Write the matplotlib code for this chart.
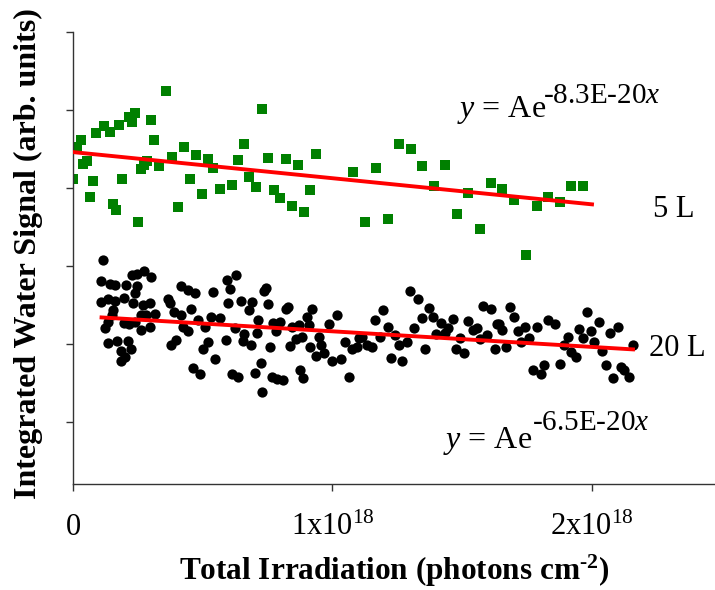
import matplotlib
matplotlib.use('Agg')
import matplotlib.pyplot as plt

plt.rcParams['font.family'] = 'Liberation Serif'
plt.rcParams['mathtext.fontset'] = 'custom'
plt.rcParams['mathtext.rm'] = 'Liberation Serif'
plt.rcParams['mathtext.it'] = 'Liberation Serif:italic'
plt.rcParams['mathtext.bf'] = 'Liberation Serif:bold'

# irradiation in units of 1e18 photons cm^-2, signal in arb. units
x_5L = [0.357, 0.727, 0.239, 0.216, 0.226, 0.299, 0.118, 0.178, 0.143, 0.090,
        0.030, 0.311, 0.017, 0.658, 0.427, 0.473, 0.380, 0.519, 0.635, 0.750,
        0.821, 0.935, 0.053, 0.040, 0.286, 0.274, 0.262, 0.333, 0.541, 0.866,
        0.001, 0.077, 0.190, 0.450, 0.679, 0.612, 0.565, 0.704, 0.773, 0.913,
        0.496, 0.066, 0.798, 0.154, 0.166, 0.403, 0.844, 0.890, 0.250,
        1.257, 1.301, 1.080, 1.169, 1.346, 1.434, 1.390, 1.522, 1.611, 1.654,
        1.698, 1.787, 1.832, 1.876, 1.920, 1.965, 1.125, 1.214, 1.479, 1.567,
        1.745]
y_5L = [5.24, 5.01, 4.96, 4.91, 4.84, 4.87, 4.80, 4.81, 4.72, 4.70,
        4.62, 4.62, 4.53, 4.57, 4.53, 4.42, 4.40, 4.37, 4.36, 4.38,
        4.37, 4.43, 4.35, 4.31, 4.35, 4.29, 4.24, 4.28, 4.26, 4.29,
        4.11, 4.09, 4.12, 4.11, 4.14, 4.04, 3.99, 4.01, 3.97, 3.97,
        3.92, 3.89, 3.87, 3.79, 3.72, 3.76, 3.77, 3.69, 3.56,
        4.57, 4.50, 4.21, 4.26, 4.28, 4.29, 4.02, 3.93, 4.07, 3.99,
        3.85, 3.77, 3.89, 3.82, 4.02, 4.02, 3.56, 3.60, 3.66, 3.47,
        3.14]

x_20L = [0.114, 0.107, 0.144, 0.161, 0.203, 0.227, 0.248, 0.272, 0.299, 0.247,
         0.240, 0.109, 0.135, 0.161, 0.195, 0.231, 0.270, 0.296, 0.154, 0.150,
         0.315, 0.263, 0.282, 0.197, 0.215, 0.135, 0.122, 0.263, 0.296, 0.238,
         0.135, 0.171, 0.212, 0.222, 0.186, 0.199, 0.184, 0.366, 0.373, 0.417,
         0.443, 0.471, 0.538, 0.389, 0.417, 0.456, 0.482, 0.508, 0.531, 0.565,
         0.424, 0.443, 0.520, 0.501, 0.398, 0.379, 0.546, 0.462, 0.488,
         0.629, 0.595, 0.605, 0.597, 0.646, 0.691, 0.678, 0.743, 0.736, 0.751,
         0.820, 0.830, 0.922, 0.901, 1.018, 0.987, 0.714, 0.624, 0.772, 0.798,
         0.845, 0.871, 0.909, 0.708, 0.659, 0.655, 0.783, 0.685, 0.588, 0.759,
         0.836, 0.858, 0.884, 0.948, 0.955, 0.913, 0.935, 0.967, 0.999, 1.032,
         1.047, 1.076, 1.096, 1.102, 0.723, 0.700, 0.614, 0.636, 0.768, 0.787,
         0.810, 0.875, 0.887, 1.064, 0.729,
         1.299, 1.331, 1.373, 1.388, 1.196, 1.164, 1.344, 1.213, 1.314, 1.417,
         1.446, 1.463, 1.399, 1.434, 1.521, 1.543, 1.556, 1.581, 1.611, 1.594,
         1.568, 1.633, 1.491, 1.113, 1.132, 1.151, 1.183, 1.241, 1.257, 1.286,
         1.356, 1.476, 1.507, 1.626, 1.225, 1.269,
         1.684, 1.701, 1.643, 1.653, 1.743, 1.714, 1.788, 1.829, 1.859, 1.758,
         1.726, 1.669, 1.906, 1.893, 1.980, 2.026, 1.951, 1.996, 1.966, 2.009,
         2.071, 2.099, 2.157, 2.039, 1.919, 1.938, 1.877, 1.774, 1.803, 1.816,
         2.054, 2.112, 2.124, 2.141, 2.082]
y_20L = [3.08, 2.81, 2.77, 2.76, 2.75, 2.89, 2.90, 2.93, 2.86, 2.74,
         2.65, 2.54, 2.58, 2.55, 2.59, 2.52, 2.50, 2.53, 2.43, 2.37,
         2.39, 2.37, 2.37, 2.27, 2.26, 2.28, 2.20, 2.18, 2.22, 2.28,
         2.01, 2.04, 2.04, 1.94, 1.91, 1.83, 1.78, 2.58, 2.52, 2.74,
         2.69, 2.65, 2.67, 2.41, 2.37, 2.45, 2.31, 2.22, 2.34, 2.33,
         2.22, 2.16, 2.03, 1.94, 2.05, 1.99, 1.81, 1.69, 1.61,
         2.89, 2.82, 2.71, 2.53, 2.55, 2.54, 2.43, 2.72, 2.68, 2.51,
         2.45, 2.48, 2.45, 2.34, 2.37, 2.26, 2.31, 2.21, 2.27, 2.28,
         2.22, 2.24, 2.24, 2.14, 2.13, 2.04, 2.16, 1.99, 2.05, 1.96,
         1.97, 2.06, 2.09, 2.09, 1.99, 1.96, 1.84, 1.88, 1.78, 1.81,
         2.03, 1.94, 1.96, 2.08, 1.75, 1.63, 1.62, 1.57, 1.58, 1.55,
         1.54, 1.66, 1.56, 1.58, 1.39,
         2.68, 2.58, 2.46, 2.35, 2.43, 2.31, 2.33, 2.22, 2.20, 2.27,
         2.20, 2.32, 2.13, 2.14, 2.29, 2.18, 2.21, 2.49, 2.45, 2.11,
         2.06, 2.25, 2.07, 2.09, 1.99, 1.96, 2.09, 2.11, 1.98, 2.03,
         1.93, 1.94, 1.89, 1.93, 1.82, 1.78,
         2.48, 2.34, 2.26, 2.18, 2.22, 2.16, 2.22, 2.31, 2.25, 2.07,
         2.03, 1.96, 2.09, 1.99, 2.41, 2.28, 2.19, 2.16, 2.08, 2.02,
         2.14, 2.22, 1.99, 1.91, 1.90, 1.83, 1.74, 1.66, 1.62, 1.73,
         1.73, 1.71, 1.66, 1.58, 1.56]

# exponential fit lines (end points)
fit_x_5L = [0.0, 2.0]
fit_y_5L = [4.46, 3.79]
fit_x_20L = [0.11, 2.158]
fit_y_20L = [2.34, 1.93]

xtick_vals = [0, 1, 2]
xtick_labels = ['0', r'1x10$^{18}$', r'2x10$^{18}$']

fig = plt.figure(figsize=(7.15, 5.9), dpi=100)
ax = fig.add_axes([73/715, 106/590, 648.75/715, 452/590])

ax.plot(x_5L, y_5L, 's', color='#008000', markersize=7.2, markeredgewidth=0, zorder=2)
ax.plot(x_20L, y_20L, 'o', color='black', markersize=7.4, markeredgewidth=0, zorder=2)
ax.plot(fit_x_5L, fit_y_5L, color='#ff0000', linewidth=2.8, zorder=3)
ax.plot(fit_x_20L, fit_y_20L, color='#ff0000', linewidth=2.8, zorder=3)

ax.set_xlim(0, 2.5)
ax.set_ylim(0.204, 6.0)
ax.set_xticks(xtick_vals)
ax.set_xticklabels(xtick_labels, fontsize=22)
ax.set_yticks([1, 2, 3, 4, 5, 6])
ax.set_yticklabels([])
ax.tick_params(direction='out', length=5, width=1, color='#333333', pad=31.5)
for t in ax.get_xticklabels():
    t.set_verticalalignment('baseline')

for s in ['top', 'right']:
    ax.spines[s].set_visible(False)
for s in ['left', 'bottom']:
    ax.spines[s].set_linewidth(1.0)
    ax.spines[s].set_color('#333333')

# axis titles (hyphen in the exponent, as in the original)
fig.text(394/715, 1 - 580/590, 'Total Irradiation (photons cm$^{\\mathbf{\u2010}\\mathbf{2}}$)',
         fontsize=22.5, fontweight='bold', ha='center', va='baseline')
fig.text(28/715, 1 - 254/590, 'Integrated Water Signal (arb. units)',
         fontsize=23, fontweight='bold', ha='center', va='center', rotation=90)

# equations and labels
ax.text(1.480, 4.911, r'$y$ = Ae', fontsize=23, va='baseline')
ax.text(1.812, 5.091, r'-8.3E-20$x$', fontsize=21, va='baseline')
ax.text(1.426, 0.662, r'$y$ = Ae', fontsize=23, va='baseline')
ax.text(1.768, 0.897, r'-6.5E-20$x$', fontsize=21, va='baseline')
ax.text(2.235, 3.623, '5 L', fontsize=22, va='baseline')
ax.text(2.220, 1.851, '20 L', fontsize=22, va='baseline')

plt.savefig('out.png', dpi=100)
